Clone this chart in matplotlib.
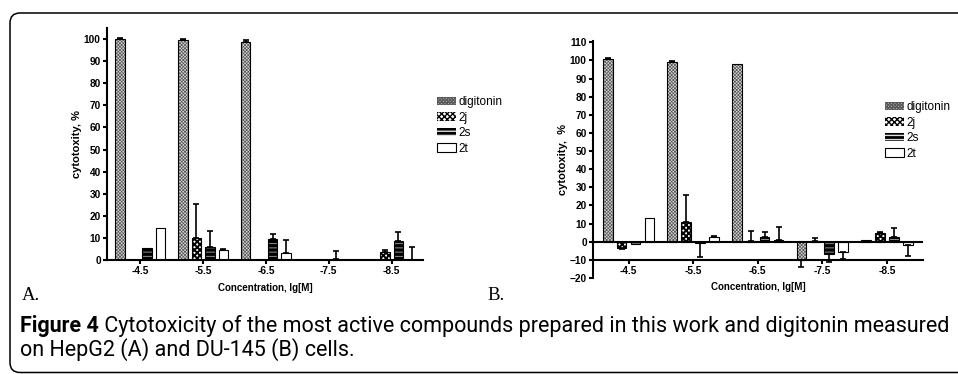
import matplotlib
matplotlib.use('Agg')
import matplotlib.pyplot as plt
import numpy as np
from matplotlib.patches import Patch, PathPatch
from matplotlib.path import Path

concentrations = ['-4.5', '-5.5', '-6.5', '-7.5', '-8.5']
series = ['digitonin', '2j', '2s', '2t']

# Panel A (HepG2)
a_digitonin = [100.0, 99.5, 98.6, 0.0, 0.0]
a_digitonin_err = [0.4, 0.4, 1.0, 0.0, 0.0]
a_2j = [0.0, 9.8, 0.0, 0.0, 3.5]
a_2j_err = [0.0, 15.6, 0.0, 0.0, 1.0]
a_2s = [5.3, 5.8, 9.5, 0.4, 8.8]
a_2s_err = [0.0, 7.3, 2.3, 3.8, 4.0]
a_2t = [14.4, 4.5, 3.0, 0.0, 0.0]
a_2t_err = [0.0, 0.3, 6.1, 0.0, 6.0]

# Panel B (DU-145)
b_digitonin = [101.0, 99.0, 98.0, -10.1, 0.9]
b_digitonin_err = [0.4, 0.6, 0.0, 4.0, 0.0]
b_2j = [-3.3, 10.7, 0.5, 0.3, 4.6]
b_2j_err = [0.5, 15.3, 5.4, 1.6, 0.9]
b_2s = [-1.3, -0.5, 2.8, -7.0, 2.8]
b_2s_err = [0.0, 7.8, 2.7, 4.0, 4.6]
b_2t = [12.9, 2.8, 0.7, -5.9, -1.8]
b_2t_err = [0.0, 0.3, 7.3, 3.6, 5.9]

W, H = 958, 374
fig = plt.figure(figsize=(W / 100, H / 100), dpi=100)

SLOT = 0.215
BW = 0.15
SANS = 'Liberation Sans'

HATCH = {0: ('xxxxxxxxxx', 0.5), 1: ('xxxxxx', 1.4), 2: ('----', 0.45)}


def px_rect(x0, y_top, x1, y_bot):
    return [x0 / W, 1 - y_bot / H, (x1 - x0) / W, (y_bot - y_top) / H]


def draw_bars(ax, vals_list, errs_list):
    x = np.arange(len(concentrations))
    offsets = (np.arange(4) - 1.5) * SLOT
    for k, (vals, errs) in enumerate(zip(vals_list, errs_list)):
        vals = np.asarray(vals, float)
        errs = np.asarray(errs, float)
        pos = x + offsets[k]
        if k == 0:
            with plt.rc_context({'hatch.linewidth': HATCH[0][1]}):
                ax.bar(pos, vals, BW, color='#d4d4d4', edgecolor='#5a5a5a',
                       hatch=HATCH[0][0], linewidth=0, zorder=2)
        elif k == 1:
            with plt.rc_context({'hatch.linewidth': HATCH[1][1]}):
                ax.bar(pos, vals, BW, color='white', edgecolor='black',
                       hatch=HATCH[1][0], linewidth=0, zorder=2)
        elif k == 2:
            with plt.rc_context({'hatch.linewidth': HATCH[2][1]}):
                ax.bar(pos, vals, BW, color='black', edgecolor='#e0e0e0',
                       hatch=HATCH[2][0], linewidth=0, zorder=2)
        else:
            ax.bar(pos, vals, BW, color='white', linewidth=0, zorder=2)
        ax.bar(pos, vals, BW, fill=False, edgecolor='black', linewidth=0.8, zorder=3)
        mask = errs > 0
        lower = np.where(vals < 0, errs, 0)
        upper = np.where(vals >= 0, errs, 0)
        ax.errorbar(pos[mask], vals[mask], yerr=[lower[mask], upper[mask]],
                    fmt='none', ecolor='black', elinewidth=1.2, capsize=2.5,
                    capthick=1.2, zorder=4)
    ax.set_xticks(x)
    ax.set_xticklabels(concentrations)


def style_axes(ax):
    for s in ['top', 'right']:
        ax.spines[s].set_visible(False)
    for s in ['left', 'bottom']:
        ax.spines[s].set_linewidth(1.5)
    ax.tick_params(width=1.5, length=3, labelsize=7.3, pad=1.5)
    for lab in ax.get_xticklabels() + ax.get_yticklabels():
        lab.set_fontweight('bold')
        lab.set_family(SANS)


def make_handles():
    hs = []
    with plt.rc_context({'hatch.linewidth': HATCH[0][1]}):
        hs.append(Patch(facecolor='#d4d4d4', edgecolor='#5a5a5a', hatch=HATCH[0][0], linewidth=0))
    with plt.rc_context({'hatch.linewidth': HATCH[1][1]}):
        hs.append(Patch(facecolor='white', edgecolor='black', hatch=HATCH[1][0], linewidth=0))
    with plt.rc_context({'hatch.linewidth': HATCH[2][1]}):
        hs.append(Patch(facecolor='black', edgecolor='#e0e0e0', hatch=HATCH[2][0], linewidth=0))
    hs.append(Patch(facecolor='white', edgecolor='black', linewidth=0.8))
    return hs


LEG = dict(loc='upper left', bbox_transform=fig.transFigure, frameon=False,
           borderpad=0, borderaxespad=0, handlelength=1.6, handleheight=0.7,
           handletextpad=0.25, labelspacing=0.3, prop={'family': SANS, 'size': 8.5})

# Panel A
axA = fig.add_axes(px_rect(107, 28, 423, 260))
draw_bars(axA, [a_digitonin, a_2j, a_2s, a_2t],
          [a_digitonin_err, a_2j_err, a_2s_err, a_2t_err])
axA.set_xlim(-0.53, 4.5)
axA.set_ylim(0, 105)
axA.set_yticks(np.arange(0, 101, 10))
style_axes(axA)
axA.set_ylabel('cytotoxity, %', fontsize=8, fontweight='bold', family=SANS, labelpad=1)
axA.set_xlabel('Concentration, lg[M]', fontsize=7, fontweight='bold', family=SANS, labelpad=5)
axA.legend(make_handles(), series, bbox_to_anchor=(437 / W, 1 - 96 / H), **LEG)

# Panel B
axB = fig.add_axes(px_rect(593, 40.5, 923, 278))
draw_bars(axB, [b_digitonin, b_2j, b_2s, b_2t],
          [b_digitonin_err, b_2j_err, b_2s_err, b_2t_err])
axB.set_xlim(-0.55, 4.56)
axB.set_ylim(-20, 111)
axB.set_yticks(np.arange(-20, 111, 10))
axB.spines['bottom'].set_position(('data', -10))
axB.axhline(0, color='black', linewidth=1.5, zorder=5)
style_axes(axB)
axB.set_ylabel('cytotoxity,  %', fontsize=8, fontweight='bold', family=SANS, labelpad=1)
axB.set_xlabel('Concentration, lg[M]', fontsize=7, fontweight='bold', family=SANS, labelpad=4)
axB.legend(make_handles(), series, bbox_to_anchor=(885 / W, 1 - 101 / H), **LEG)

# Panel letters
fig.text(22 / W, 1 - 296 / H, 'A.', family='Liberation Serif', fontsize=13.5, va='center')
fig.text(487 / W, 1 - 296 / H, 'B.', family='Liberation Serif', fontsize=13.5, va='center')

# Caption
CAP = 'Roboto'
renderer = fig.canvas.get_renderer()
bold_part = 'Figure 4'
rest1 = ' Cytotoxicity of the most active compounds prepared in this work and digitonin measured'
line2 = 'on HepG2 (A) and DU-145 (B) cells.'
t_b = fig.text(0, 0, bold_part, family=CAP, fontweight='bold', fontsize=10)
t_r = fig.text(0, 0, rest1, family=CAP, fontsize=10)
wb = t_b.get_window_extent(renderer).width
wr = t_r.get_window_extent(renderer).width
fs = 10 * (952 - 20) / (wb + wr)
t_b.set_fontsize(fs)
t_r.set_fontsize(fs)
y1 = 1 - 326 / H
t_b.set_position((20 / W, y1))
t_b.set_va('center')
wb = t_b.get_window_extent(renderer).width
t_r.set_position(((20 + wb) / W, y1))
t_r.set_va('center')
fig.text(20 / W, 1 - 350 / H, line2, family=CAP, fontsize=fs, va='center')

# Rounded frame (left, top and bottom edges only; right side is cut off)
xl, xr, yt, yb, r = 10, 1000, H - 13, 1.5, 10
verts = [(xr, yt), (xl + r, yt), (xl, yt), (xl, yt - r), (xl, yb + r), (xl, yb), (xl + r, yb), (xr, yb)]
codes = [Path.MOVETO, Path.LINETO, Path.CURVE3, Path.CURVE3, Path.LINETO, Path.CURVE3, Path.CURVE3, Path.LINETO]
frame = PathPatch(Path(verts, codes), transform=None, fill=False, edgecolor='black', linewidth=1.1)
fig.patches.append(frame)

fig.savefig('out.png', dpi=100)
